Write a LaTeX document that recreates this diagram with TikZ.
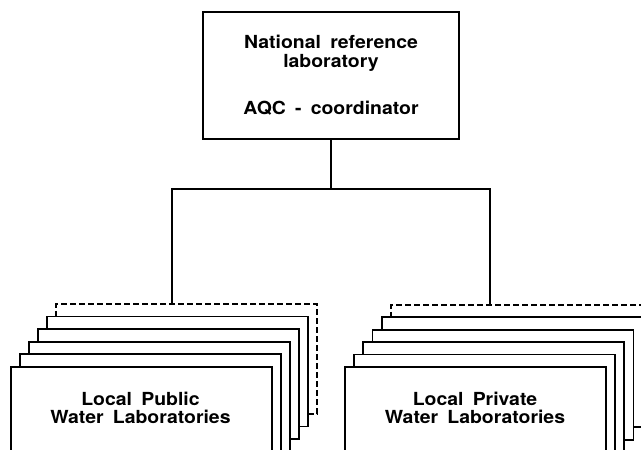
\documentclass[tikz,border=0pt]{standalone}
\usepackage{fontspec}
\setmainfont{TeX Gyre Heros}
\newfontfamily\labfont[FakeStretch = 1.08, WordSpace = 1.7]{TeX Gyre Heros}
\usetikzlibrary{positioning}

\begin{document}
\begin{tikzpicture}[%
        x = 1pt,
        y = -1pt,
        line width = 1.7pt,
        labbox/.style = {draw, fill = white, anchor = north west,
            minimum width = 261pt, minimum height = 110pt, inner sep = 0pt},
        ghostbox/.style = {labbox, dash pattern = on 6pt off 3pt},
        labtext/.style = {font = \labfont\fontsize{18}{18.5}\selectfont\bfseries,
            align = center}
    ]

        % Page frame, the stacks run off the bottom edge.
        \clip (0, 0) rectangle (641, 450);

        % Top of the tree.
        \node[draw, labtext, minimum width = 256pt, minimum height = 127pt]
            (nat) at (331, 75.5)
            {National reference\\laboratory\\[29pt]AQC - coordinator};

        % Branch points of the connector.
        \coordinate (split) at (331, 189);
        \coordinate (pubin) at (172, 303);
        \coordinate (privin) at (490, 304);

        % Stack of public laboratories, back to front.
        \node[ghostbox] (pub5) at (55, 303) {};
        \foreach \i in {4, 3, 2, 1}
            \node[labbox] (pub\i) at (10 + 9*\i, 366 - 12.6*\i) {};
        \node[labbox] (pub0) at (10, 366) {};
        \node[labtext] (publabel) at (140.5, 408)
            {Local Public\\Water Laboratories};

        % Stack of private laboratories, back to front.
        \node[ghostbox] (priv5) at (390, 304) {};
        \foreach \i in {4, 3, 2, 1}
            \node[labbox] (priv\i) at (344 + 9.2*\i, 366 - 12.4*\i) {};
        \node[labbox] (priv0) at (344, 366) {};
        \node[labtext] (privlabel) at (475, 408)
            {Local Private\\Water Laboratories};

        % Connect the top box to both stacks.
        \draw (nat.south) -- (split);
        \draw (pubin) |- (split) -| (privin);
    \end{tikzpicture}
\end{document}
